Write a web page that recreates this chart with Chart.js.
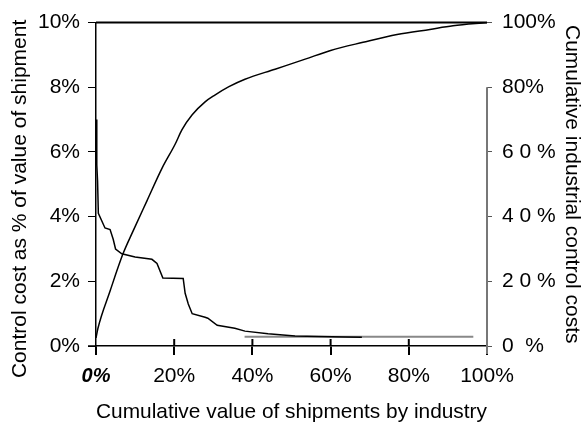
<!DOCTYPE html>
<html>
<head>
<meta charset="utf-8">
<script src="https://cdn.jsdelivr.net/npm/chart.js@4.4.1/dist/chart.umd.min.js"></script>
<style>
  html, body { margin: 0; padding: 0; background: #fff; }
</style>
</head>
<body>
<canvas id="myChart" width="584" height="423"></canvas>
<script>
// control cost as % of shipment value (left axis), by cumulative share of shipments
var shareX = [0.05, 0.2, 0.4, 0.6, 2.3, 3.6, 4.4, 5.0, 6.6, 10, 14.3, 15.6, 17.1, 22.3, 22.8, 23.6, 24.6, 27.9, 28.6, 31, 35.5, 38.1, 44, 50.9, 57, 63.7, 68];
var shareY = [7.0, 5.6, 5.1, 4.1, 3.65, 3.6, 3.3, 3.0, 2.85, 2.75, 2.68, 2.55, 2.1, 2.09, 1.63, 1.3, 1.0, 0.89, 0.86, 0.64, 0.55, 0.46, 0.38, 0.31, 0.29, 0.28, 0.27];
// cumulative industrial control costs (right axis)
var cumX = [0, 0.5, 3.6, 6.9, 9.5, 13, 16.9, 20.2, 22, 24.6, 27.9, 30.4, 34, 38.1, 45.8, 53.5, 60, 68.3, 77, 85.4, 91.3, 100];
var cumY = [2.5, 5.5, 17, 28.5, 35.6, 44.8, 55, 62.3, 66.9, 71.5, 75.5, 77.6, 80.2, 82.5, 85.6, 88.7, 91.4, 93.9, 96.3, 97.9, 99, 100];
// grey flat line near the bottom
var flatX = [38, 96.5];
var flatY = [0.285, 0.285];

var xTicks = [0, 20, 40, 60, 80, 100];
var rightTickValues = [0, 20, 40, 60, 80, 100];
var rightTickLabels = ['0  %', '2 0 %', '4 0 %', '6 0 %', '80%', '100%'];

function pts(xs, ys) {
  return xs.map(function(x, i) { return {x: x, y: ys[i]}; });
}

var fam = "'Liberation Sans', Arial, Helvetica, sans-serif";

var framePlugin = {
  id: 'frame',
  afterDraw: function(chart) {
    var c = chart.ctx, a = chart.chartArea;
    var x = chart.scales.x, y1 = chart.scales.y1;
    c.save();
    c.strokeStyle = '#000';
    // top line
    c.lineWidth = 2;
    c.beginPath(); c.moveTo(a.left, a.top); c.lineTo(a.right, a.top); c.stroke();
    // x axis stub to the left
    c.lineWidth = 1.5;
    c.beginPath(); c.moveTo(a.left - 8, a.bottom); c.lineTo(a.left, a.bottom); c.stroke();
    // upper half of x ticks
    c.lineWidth = 2;
    xTicks.forEach(function(v) {
      if (v === 0 || v === 100) return;
      var px = x.getPixelForValue(v);
      c.beginPath(); c.moveTo(px, a.bottom - 7); c.lineTo(px, a.bottom); c.stroke();
    });
    // grey right axis, only below 80%
    c.strokeStyle = '#777';
    c.lineWidth = 2;
    c.beginPath(); c.moveTo(a.right, y1.getPixelForValue(80)); c.lineTo(a.right, a.bottom + 8); c.stroke();
    c.restore();
  }
};

var ctx = document.getElementById('myChart');
new Chart(ctx, {
  type: 'line',
  data: {
    datasets: [{
      label: 'Control cost as % of value of shipment',
      data: pts(shareX, shareY),
      yAxisID: 'y',
      borderColor: '#000',
      borderWidth: 1.5,
      pointRadius: 0,
      tension: 0
    }, {
      label: 'flat',
      data: pts(flatX, flatY),
      yAxisID: 'y',
      borderColor: '#888',
      borderWidth: 2,
      pointRadius: 0
    }, {
      label: 'Cumulative industrial control costs',
      data: pts(cumX, cumY),
      yAxisID: 'y1',
      borderColor: '#000',
      borderWidth: 1.5,
      pointRadius: 0,
      cubicInterpolationMode: 'monotone'
    }]
  },
  options: {
    responsive: false,
    animation: false,
    layout: { padding: { top: 20, left: 0, right: 0, bottom: 0 } },
    plugins: { legend: { display: false }, tooltip: { enabled: false } },
    scales: {
      x: {
        type: 'linear',
        min: 0, max: 100,
        afterBuildTicks: function(s) { s.ticks = xTicks.map(function(v) { return {value: v}; }); },
        afterFit: function(s) { s.height = 77; },
        ticks: {
          color: '#000',
          padding: 9,
          maxRotation: 0,
          callback: function(v) { return v + '%'; },
          font: function(c) {
            if (c.tick && c.tick.value === 0) return { family: fam, size: 20, weight: 'bold', style: 'italic' };
            return { family: fam, size: 21 };
          }
        },
        grid: { drawOnChartArea: false, drawTicks: true, tickLength: 9, color: '#000', lineWidth: 2 },
        border: { display: true, color: '#000', width: 1.5 },
        title: {
          display: true,
          text: 'Cumulative value of shipments by industry',
          color: '#000',
          font: { family: fam, size: 21, lineHeight: 1 },
          padding: { top: 0, bottom: 0 }
        }
      },
      y: {
        position: 'left',
        min: 0, max: 10,
        afterFit: function(s) { s.width = 96; },
        ticks: {
          stepSize: 2,
          color: '#000',
          padding: 8,
          font: { family: fam, size: 21 },
          callback: function(v) { return v + '%'; }
        },
        grid: { drawOnChartArea: false, tickLength: 8, color: '#000', lineWidth: 1 },
        border: { display: true, color: '#000', width: 1.5 },
        title: {
          display: true,
          text: 'Control cost as % of value of shipment     ',
          color: '#000',
          font: { family: fam, size: 21, lineHeight: 1 },
          padding: { top: 10, bottom: 0 }
        }
      },
      y1: {
        position: 'right',
        min: 0, max: 100,
        afterFit: function(s) { s.width = 97; },
        afterBuildTicks: function(s) { s.ticks = rightTickValues.map(function(v) { return {value: v}; }); },
        ticks: {
          color: '#000',
          padding: 10,
          font: { family: fam, size: 21 },
          callback: function(v) { return rightTickLabels[rightTickValues.indexOf(v)]; }
        },
        grid: { drawOnChartArea: false, tickLength: 5, color: '#555', lineWidth: 1 },
        border: { display: false },
        title: {
          display: true,
          text: 'Cumulative industrial control costs',
          color: '#000',
          font: { family: fam, size: 21, lineHeight: 1 },
          padding: { top: 2, bottom: 0 }
        }
      }
    }
  },
  plugins: [framePlugin]
});
</script>
</body>
</html>
